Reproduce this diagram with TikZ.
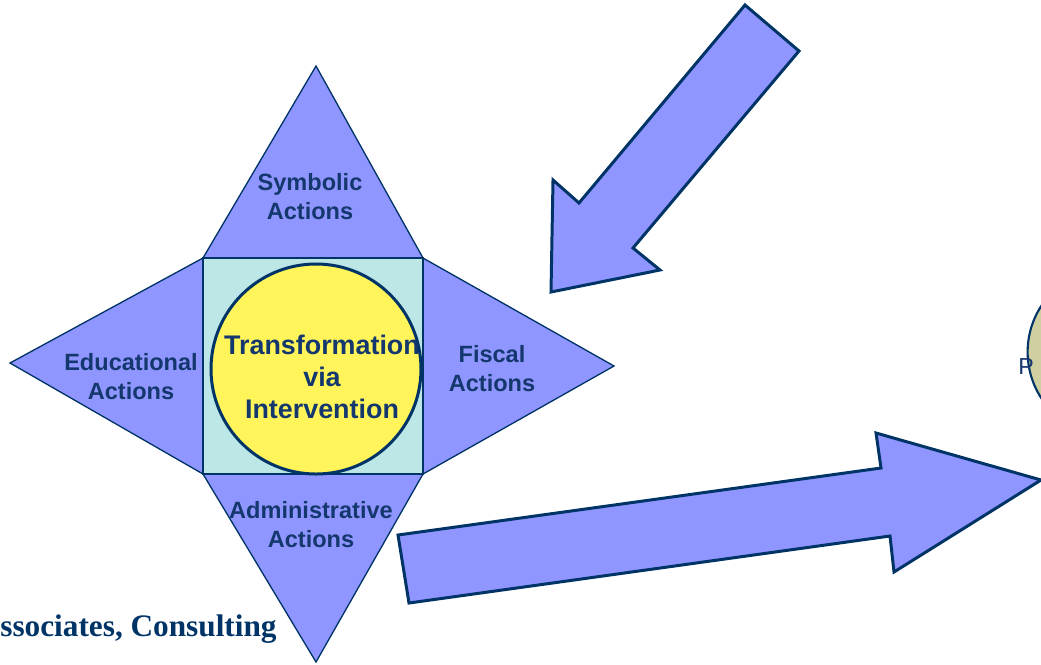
\documentclass[tikz,border=0pt]{standalone}
\usepackage{fontspec}
\setmainfont{Liberation Sans}
\newfontfamily\timesfont{Liberation Serif}

\definecolor{navy}{RGB}{0,51,102}
\definecolor{labelblue}{RGB}{20,55,110}
\definecolor{periwinkle}{RGB}{143,150,255}
\definecolor{paleteal}{RGB}{189,230,230}
\definecolor{lemon}{RGB}{255,245,90}
\definecolor{khaki}{RGB}{207,207,160}

\tikzset{
  facet/.style={draw=navy, line width=0.75pt, fill=periwinkle, line join=miter},
  bigarrow/.style={draw=navy, line width=1.7pt, fill=periwinkle, line join=miter},
  facetlabel/.style={text=labelblue, font=\bfseries\fontsize{13.4}{16.5}\selectfont, align=center, inner sep=0pt},
}

\begin{document}
\begin{tikzpicture}[x=0.02cm, y=-0.02cm]

        \path[use as bounding box, clip] (0,0) rectangle (1041,664);

        % corners of the square and tips of the four triangles
        \coordinate (nw) at (203,258);
        \coordinate (ne) at (423,258);
        \coordinate (sw) at (203,474);
        \coordinate (se) at (423,474);
        \coordinate (top)    at (316,66);
        \coordinate (left)   at (10,363);
        \coordinate (right)  at (614,366);
        \coordinate (bottom) at (316,662);

        \begin{scope}[every path/.style={facet}]
          \draw (top) -- (ne) -- (nw) -- cycle;
          \draw (left) -- (nw) -- (sw) -- cycle;
          \draw (right) -- (ne) -- (se) -- cycle;
          \draw (bottom) -- (sw) -- (se) -- cycle;
        \end{scope}

        \draw[fill=paleteal, draw=navy, line width=0.9pt] (nw) rectangle (se);
        \draw[fill=lemon, draw=navy, line width=1.7pt] (316,369) circle[radius=105];

        \begin{scope}[every node/.style={facetlabel}]
          \node (symbolic)    at (310,197) {Symbolic\\Actions};
          \node (educational) at (131,377) {Educational\\Actions};
          \node (fiscal)      at (492,369) {Fiscal\\Actions};
          \node (admin)       at (311,525) {Administrative\\Actions};
          \node[font=\bfseries\fontsize{15.3}{18}\selectfont] (core) at (322,377)
            {Transformation\\via\\Intervention};
        \end{scope}

        % block arrows
        \draw[bigarrow] (745,5) -- (799,51) -- (633,248) -- (660,270)
          -- (551,292) -- (553,180) -- (579,203) -- cycle;
        \draw[bigarrow] (398,535) -- (881,468) -- (876,433) -- (1041,480)
          -- (894,572) -- (890,536) -- (409,603) -- cycle;

        % circle cut by the right edge
        \draw[fill=khaki, draw=navy, line width=1.2pt] (1112,352) circle[radius=84.4];
        \node[anchor=base west, inner sep=0pt, text=labelblue,
          font=\fontsize{13.2}{15}\selectfont] (p) at (1018,374) {P};

        \node[anchor=base west, inner sep=0pt, text=navy,
          font=\timesfont\bfseries\fontsize{17.8}{21}\selectfont] (firm) at (0,636)
          {ssociates, Consulting};

      \end{tikzpicture}
\end{document}
